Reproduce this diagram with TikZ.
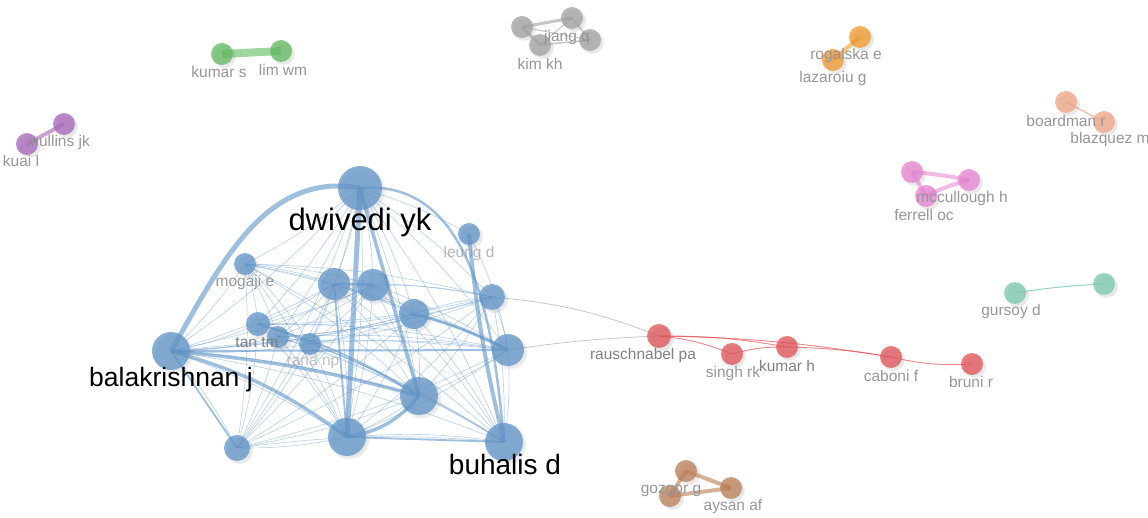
\documentclass[tikz,border=0pt]{standalone}
\usepackage{fontspec}
\setmainfont{Liberation Sans}
\usetikzlibrary{shadows}
\definecolor{cblue}{RGB}{95,148,200}
\definecolor{cred}{RGB}{225,80,85}
\definecolor{cgray}{RGB}{160,160,160}
\definecolor{cgreen}{RGB}{95,185,95}
\definecolor{cpurple}{RGB}{165,100,185}
\definecolor{corange}{RGB}{240,150,40}
\definecolor{csalmon}{RGB}{240,165,130}
\definecolor{cpink}{RGB}{230,130,210}
\definecolor{cteal}{RGB}{120,200,170}
\definecolor{cbrown}{RGB}{185,125,85}
\definecolor{labgray}{RGB}{150,150,150}
\pgfdeclarelayer{bg}
\pgfsetlayers{bg,main}
\tikzset{
  vn/.style={circle, inner sep=0pt, minimum size=#1, fill opacity=0.75,
    circular drop shadow={shadow xshift=2pt, shadow yshift=-2pt, opacity=0.18}},
  lab/.style={font=\fontsize{15.5}{16}\selectfont, text=labgray, inner sep=0pt},
  biglab/.style={font=\fontsize{#1}{#1}\selectfont, text=black, inner sep=0pt},
  be/.style={draw=cblue, line width=#1, opacity=0.6},
  te/.style={draw=cblue, line width=0.6pt, opacity=0.45},
}
\begin{document}
\begin{tikzpicture}[x=1pt,y=-1pt]
\useasboundingbox (0,0) rectangle (1148,518);
% ---------------- blue cluster nodes
\node[vn=44pt, fill=cblue] (dw) at (360,188) {};
\node[vn=22pt, fill=cblue] (le) at (469,234) {};
\node[vn=22pt, fill=cblue] (mo) at (245,264) {};
\node[vn=32pt, fill=cblue] (na) at (334,284) {};
\node[vn=32pt, fill=cblue] (nb) at (373,285) {};
\node[vn=30pt, fill=cblue] (nc) at (414,314) {};
\node[vn=26pt, fill=cblue] (nd) at (492,297) {};
\node[vn=24pt, fill=cblue] (ne) at (258,324) {};
\node[vn=22pt, fill=cblue] (nf) at (278,337) {};
\node[vn=22pt, fill=cblue] (ng) at (310,344) {};
\node[vn=38pt, fill=cblue] (ba) at (171,351) {};
\node[vn=32pt, fill=cblue] (nh) at (508,350) {};
\node[vn=38pt, fill=cblue] (ni) at (419,396) {};
\node[vn=38pt, fill=cblue] (nj) at (347,437) {};
\node[vn=26pt, fill=cblue] (nk) at (237,448) {};
\node[vn=38pt, fill=cblue] (bu) at (504,442) {};
% ---------------- red cluster
\node[vn=24pt, fill=cred] (ra) at (659,336) {};
\node[vn=22pt, fill=cred] (si) at (732,354) {};
\node[vn=22pt, fill=cred] (kh) at (787,347) {};
\node[vn=22pt, fill=cred] (ca) at (891,357) {};
\node[vn=22pt, fill=cred] (br) at (972,364) {};
% ---------------- gray cluster
\node[vn=22pt, fill=cgray] (g1) at (522,27) {};
\node[vn=22pt, fill=cgray] (g2) at (572,18) {};
\node[vn=22pt, fill=cgray] (g3) at (540,45) {};
\node[vn=22pt, fill=cgray] (g4) at (590,40) {};
% ---------------- green
\node[vn=22pt, fill=cgreen] (ks) at (222,54) {};
\node[vn=22pt, fill=cgreen] (lw) at (281,51) {};
% ---------------- purple
\node[vn=22pt, fill=cpurple] (mj) at (64,124) {};
\node[vn=22pt, fill=cpurple] (kl) at (27,144) {};
% ---------------- orange
\node[vn=22pt, fill=corange] (re) at (860,37) {};
\node[vn=22pt, fill=corange] (lg) at (833,60) {};
% ---------------- salmon
\node[vn=22pt, fill=csalmon] (bo) at (1066,102) {};
\node[vn=22pt, fill=csalmon] (bm) at (1104,122) {};
% ---------------- pink
\node[vn=22pt, fill=cpink] (p1) at (912,172) {};
\node[vn=22pt, fill=cpink] (mh) at (969,180) {};
\node[vn=22pt, fill=cpink] (fo) at (926,196) {};
% ---------------- teal
\node[vn=22pt, fill=cteal] (gd) at (1015,293) {};
\node[vn=22pt, fill=cteal] (t2) at (1104,284) {};
% ---------------- brown
\node[vn=22pt, fill=cbrown] (b1) at (686,471) {};
\node[vn=22pt, fill=cbrown] (ay) at (731,488) {};
\node[vn=22pt, fill=cbrown] (gg) at (670,496) {};

% ---------------- edges
\begin{pgfonlayer}{bg}
\foreach \a [count=\i] in {dw,mo,na,nb,nc,nd,ne,nf,ng,ba,nh,ni,nj,nk,bu}{
  \foreach \b [count=\j] in {dw,mo,na,nb,nc,nd,ne,nf,ng,ba,nh,ni,nj,nk,bu}{
    \ifnum\j>\i \draw[te] (\a.center) to[bend left=6] (\b.center); \fi
  }
}
\draw[te] (le.center) to[bend left=8] (nh.center);
\draw[te] (le.center) to[bend right=6] (dw.center);
\draw[be=5pt] (ba.center) to[out=60,in=170] (dw.center);
\draw[be=5pt] (dw.center) -- (nj.center);
\draw[be=3.5pt] (dw.center) -- (ni.center);
\draw[be=3.5pt] (ba.center) to[bend left=5] (ni.center);
\draw[be=3.5pt] (ba.center) to[bend left=10] (nj.center);
\draw[be=3.5pt] (nj.center) to[bend right=20] (ni.center);
\draw[be=4pt] (le.center) to[bend right=4] (bu.center);
\draw[be=2.5pt] (dw.center) to[out=5,in=95] (bu.center);
\draw[be=3pt] (nc.center) to[bend left=6] (nh.center);
\draw[be=2pt] (ba.center) -- (nh.center);
\draw[be=1.8pt] (na.center) -- (nb.center);
\draw[be=1.8pt] (ne.center) to[bend left=8] (ni.center);
\draw[be=1.8pt] (ba.center) -- (nk.center);
\draw[be=1.8pt] (nj.center) -- (bu.center);
\draw[be=1.8pt] (na.center) -- (nj.center);
\draw[draw=cgray, line width=0.8pt, opacity=0.6] (nh.center) to[bend left=3] (ra.center);
\draw[draw=cgray, line width=0.8pt, opacity=0.6] (nd.center) to[bend left=8] (ra.center);
% red
\tikzset{re/.style={draw=cred, line width=0.9pt, opacity=0.7}}
\draw[re] (ra.center) to[bend left=5] (kh.center);
\draw[re] (ra.center) to[bend left=8] (si.center);
\draw[re] (si.center) to[bend left=8] (kh.center);
\draw[re] (kh.center) to[bend left=4] (ca.center);
\draw[re] (ca.center) to[bend right=8] (br.center);
\draw[re] (ra.center) to[bend left=4] (ca.center);
% gray
\tikzset{ge/.style={draw=cgray, line width=3pt, opacity=0.6}}
\draw[ge] (g1.center) -- (g2.center);
\draw[ge] (g1.center) -- (g3.center);
\draw[ge, line width=1.5pt] (g3.center) -- (g4.center);
\draw[ge, line width=1.5pt] (g2.center) -- (g4.center);
\draw[ge, line width=1pt] (g1.center) -- (g4.center);
\draw[ge, line width=1pt] (g2.center) -- (g3.center);
% green
\draw[draw=cgreen, line width=8pt, opacity=0.6] (ks.center) -- (lw.center);
% purple
\draw[draw=cpurple, line width=4pt, opacity=0.6] (mj.center) -- (kl.center);
% orange
\draw[draw=corange, line width=4pt, opacity=0.6] (re.center) -- (lg.center);
% salmon
\draw[draw=csalmon, line width=1.5pt, opacity=0.7] (bo.center) -- (bm.center);
% pink
\tikzset{pe/.style={draw=cpink, line width=4pt, opacity=0.55}}
\draw[pe] (p1.center) to[bend left=3] (mh.center);
\draw[pe] (p1.center) -- (fo.center);
\draw[pe] (fo.center) to[bend left=5] (mh.center);
% teal
\draw[draw=cteal, line width=1pt, opacity=0.8] (gd.center) to[bend left=3] (t2.center);
% brown
\tikzset{we/.style={draw=cbrown, line width=4pt, opacity=0.6}}
\draw[we] (b1.center) -- (ay.center);
\draw[we] (b1.center) -- (gg.center);
\draw[we] (gg.center) -- (ay.center);
\end{pgfonlayer}

% ---------------- labels
\node[biglab=31] (ldw) at (360,222) {dwivedi yk};
\node[biglab=26.5] (lba) at (171,380) {balakrishnan j};
\node[biglab=28] (lbu) at (505,464) {buhalis d};
\node[lab, text opacity=0.7] (lle) at (469,253) {leung d};
\node[lab] (lmo) at (245,282) {mogaji e};
\node[lab, text=gray] (ltt) at (257,343) {tan tm};
\node[lab, text opacity=0.6] (lrn) at (313,363) {rana np};
\node[lab, text=gray] (lra) at (643,355) {rauschnabel pa};
\node[lab] (lsi) at (733,373) {singh rk};
\node[lab, text=gray] (lkh) at (787,366) {kumar h};
\node[lab] (lca) at (891,376) {caboni f};
\node[lab] (lbr) at (971,382) {bruni r};
\node[lab] (ljq) at (567,37) {jiang q};
\node[lab] (lkk) at (540,64) {kim kh};
\node[lab] (lks) at (219,72) {kumar s};
\node[lab] (llw) at (283,70) {lim wm};
\node[lab] (lmj) at (58,142) {mullins jk};
\node[lab] (lkl) at (21,161) {kuai l};
\node[lab] (lre) at (846,55) {rogalska e};
\node[lab] (llg) at (833,78) {lazaroiu g};
\node[lab] (lbo) at (1066,121) {boardman r};
\node[lab] (lbm) at (1110,139) {blazquez m};
\node[lab] (lmh) at (962,198) {mccullough h};
\node[lab] (lfo) at (924,215) {ferrell oc};
\node[lab] (lgd) at (1011,311) {gursoy d};
\node[lab] (lgg) at (671,491) {gozgor g};
\node[lab] (lay) at (733,506) {aysan af};
\end{tikzpicture}
\end{document}
